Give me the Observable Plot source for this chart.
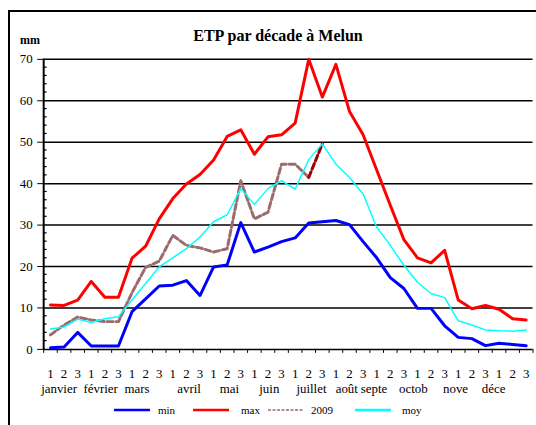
<!DOCTYPE html>
<html>
<head>
<meta charset="utf-8">
<script src="https://cdn.jsdelivr.net/npm/d3@7"></script>
<script src="https://cdn.jsdelivr.net/npm/@observablehq/plot@0.6"></script>
<style>
  html, body { margin: 0; padding: 0; overflow: hidden; background: #fff; }
  #wrap { position: relative; width: 536px; height: 425px; overflow: hidden; font-family: "Liberation Serif", "Times New Roman", serif; }
  #frame { position: absolute; left: 8px; top: 10px; width: 600px; height: 600px; border: 2.5px solid #000; box-sizing: border-box; }
  #title { position: absolute; left: 0; width: 556px; top: 27px; text-align: center; font-weight: bold; font-size: 16px; }
  #unit { position: absolute; left: 20px; top: 33px; font-weight: bold; font-size: 12px; }
  #chart { position: absolute; left: 0; top: 0; }
  #chart svg, #chart svg text, #chart svg g { font-family: "Liberation Serif", "Times New Roman", serif !important; }
  .leg { position: absolute; top: 404px; font-size: 11px; display: flex; align-items: center; font-family: "Liberation Serif", serif; }
  .leg svg { margin-right: 4px; }
</style>
</head>
<body>
<div id="wrap">
  <div id="frame"></div>
  <div id="chart"></div>
  <div id="title">ETP par décade à Melun</div>
  <div id="unit">mm</div>
  <div id="legend"></div>
</div>
<script>
// ---- data ----
const months = ["janvier","février","mars","avril","mai","juin","juillet","août","septe","octob","nove","déce"];
const decadeTicks = ["1","2","3"];
// where each month label sits, in decade-index units
const monthLabelAt = [0.63, 3.69, 6.37, 10.2, 13.17, 16.1, 19.2, 21.8, 23.8, 26.7, 29.8, 32.6];
const yTicks = [0,10,20,30,40,50,60,70];
const yMinorTicks = [2,4,6,8,12,14,16,18,22,24,26,28,32,34,36,38,42,44,46,48,52,54,56,58,62,64,66,68];

const etpMin = [0.4,0.6,4.1, 0.8,0.8,0.8, 9.1,12.2,15.3, 15.5,16.6,13.0, 19.9,20.4,30.6, 23.5,24.7,26.0, 26.9,30.5,30.8, 31.1,30.1,26.0, 22.1,17.3,14.7, 9.9,9.9,5.7, 2.9,2.6,0.9, 1.5,1.2,0.9];
const etpMax = [10.7,10.6,11.9, 16.4,12.6,12.6, 22.0,24.9,31.5, 36.4,39.9,42.2, 45.7,51.4,53.0, 47.1,51.3,51.8, 54.6,70.0,60.9, 68.8,57.4,51.8, 43.3,34.8,26.5, 22.1,20.9,23.9, 11.9,9.8,10.6, 9.7,7.4,7.1];
const etp2009 = [3.5,5.9,7.8, 7.1,6.7,6.7, 13.7,19.8,21.3, 27.5,25.1,24.5, 23.5,24.3,40.7, 31.5,33.1,44.7, 44.7,41.5,49.6];
const etpMoy = [4.9,5.4,7.3, 6.5,7.4,7.9, 11.9,15.9,19.9, 22.1,24.3,27.1, 30.8,32.5,38.8, 35.0,38.8,40.7, 38.7,45.8,49.6, 44.7,41.5,37.5, 29.5,25.1,20.3, 16.2,13.5,12.5, 6.9,5.9,4.7, 4.5,4.4,4.7];

const seriesNames = ["min","max","2009","moy"];
const seriesColors = ["#0000ff","#ff0000","#9c6b6b","#00ffff"];

// ---- derived tables ----
const nDec = months.length * decadeTicks.length;
const idx = d3.range(nDec);
const toPts = arr => arr.map((v, i) => ({i, v}));
const decadeLabels = idx.map(i => ({i, t: decadeTicks[i % 3]}));
const monthLabels = months.map((m, k) => ({i: monthLabelAt[k], t: m}));
const boundaries = d3.range(nDec + 1).map(i => i - 0.5);
const pts2009 = toPts(etp2009);
const last2009 = pts2009.length - 1;

const minorTicksMark = (index, scales, values, dimensions) => {
  const g = d3.create("svg:g").attr("stroke", "#000").attr("stroke-width", 1.2);
  const x0 = scales.x(-0.5);
  for (const v of yMinorTicks) {
    const y = scales.y(v);
    g.append("line").attr("x1", x0).attr("x2", x0 + 3.5).attr("y1", y).attr("y2", y);
  }
  return g.node();
};

const serif = '"Liberation Serif", "Times New Roman", serif';
const chart = Plot.plot({
  width: 540,
  height: 425,
  marginLeft: 43.5,
  marginRight: 3.5,
  marginTop: 59.3,
  marginBottom: 73.5,
  style: { fontFamily: serif, fontSize: "13px", background: "transparent", overflow: "visible" },
  x: { type: "linear", domain: [-0.5, nDec - 0.5], ticks: boundaries, tickSize: 4, tickFormat: () => "", label: null },
  y: { domain: [0, 70], ticks: yTicks, tickSize: 6, tickPadding: 5, label: null },
  marks: [
    Plot.ruleY(yTicks, { stroke: "#000", strokeWidth: 1.5 }),
    Plot.ruleX([-0.5], { y1: 0, y2: 70, stroke: "#000", strokeWidth: 2 }),
    minorTicksMark,
    Plot.text(decadeLabels, { x: "i", y: () => 0, text: "t", dy: 25, fontSize: 13, fill: "#000" }),
    Plot.text(monthLabels, { x: "i", y: () => 0, text: "t", dy: 40, fontSize: 13, fill: "#000" }),
    Plot.line(toPts(etpMin), { x: "i", y: "v", stroke: seriesColors[0], strokeWidth: 3 }),
    Plot.line(toPts(etpMax), { x: "i", y: "v", stroke: seriesColors[1], strokeWidth: 3 }),
    Plot.line(pts2009.slice(0, last2009), { x: "i", y: "v", stroke: seriesColors[2], strokeWidth: 3, strokeDasharray: "6,3", strokeLinejoin: "round" }),
    Plot.line(pts2009.slice(last2009 - 1), { x: "i", y: "v", stroke: "#a00000", strokeWidth: 3, strokeDasharray: "6,3" }),
    Plot.line(toPts(etpMoy), { x: "i", y: "v", stroke: seriesColors[3], strokeWidth: 1.5 })
  ]
});
document.getElementById("chart").appendChild(chart);

// ---- legend ----
const legendLeft = [114, 193, 268, 355];
const legendGap = [4, 8, 3, 7];
const leg = document.getElementById("legend");
seriesNames.forEach((name, k) => {
  const item = document.createElement("div");
  item.className = "leg";
  item.style.left = legendLeft[k] + "px";
  const dash = name === "2009" ? 'stroke-dasharray="3,1.5"' : "";
  const sw = name === "2009" ? 1.5 : 2.5;
  item.innerHTML = `<svg width="${36 + legendGap[k]}" height="10"><line x1="0" x2="36" y1="5" y2="5" stroke="${seriesColors[k]}" stroke-width="${sw}" ${dash}/></svg><span>${name}</span>`;
  leg.appendChild(item);
});
</script>
</body>
</html>
